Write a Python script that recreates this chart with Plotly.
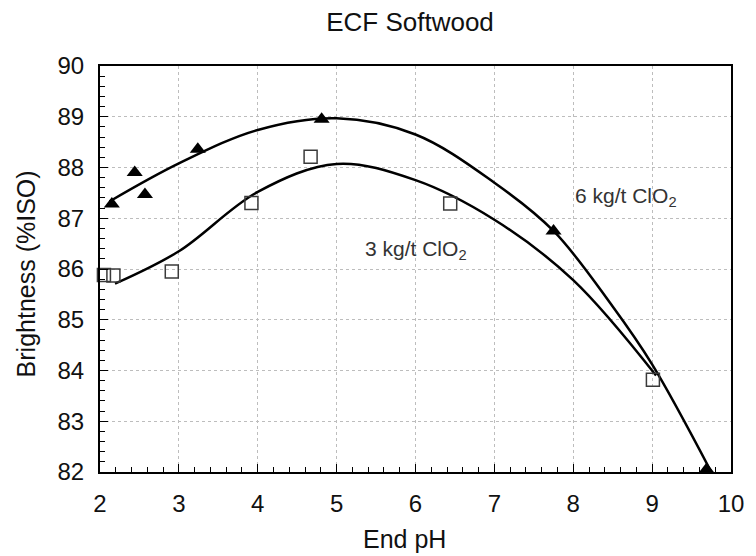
import plotly.graph_objects as go

# Measured points
ph_6kg = [2.15, 2.44, 2.57, 3.24, 4.81, 7.75, 9.69]
br_6kg = [87.28, 87.90, 87.47, 88.36, 88.95, 86.75, 82.05]
ph_3kg = [2.05, 2.17, 2.91, 3.92, 4.67, 6.44, 9.01]
br_3kg = [85.88, 85.87, 85.95, 87.30, 88.21, 87.29, 83.82]

# Fitted curves
fit6_x = [2.12, 3.0, 4.0, 5.0, 6.0, 7.0, 7.75, 8.5, 9.0, 9.75]
fit6_y = [87.33, 88.08, 88.74, 88.97, 88.65, 87.70, 86.75, 85.26, 84.12, 82.0]
fit3_x = [2.19, 3.0, 4.0, 5.0, 6.0, 7.0, 8.0, 9.05]
fit3_y = [85.71, 86.35, 87.52, 88.07, 87.75, 86.97, 85.78, 83.9]

x_ticks = [2, 3, 4, 5, 6, 7, 8, 9, 10]
y_ticks = [82, 83, 84, 85, 86, 87, 88, 89, 90]

font = "Liberation Sans, Arial, sans-serif"

fig = go.Figure()
fig.add_trace(go.Scatter(x=fit6_x, y=fit6_y, mode="lines",
                         line=dict(color="black", width=2.5, shape="spline", smoothing=1.0),
                         showlegend=False, hoverinfo="skip"))
fig.add_trace(go.Scatter(x=fit3_x, y=fit3_y, mode="lines",
                         line=dict(color="black", width=2.5, shape="spline", smoothing=1.0),
                         showlegend=False, hoverinfo="skip"))
fig.add_trace(go.Scatter(x=ph_6kg, y=br_6kg, mode="markers", name="6 kg/t ClO2",
                         marker=dict(symbol="triangle-up", size=14, color="black"),
                         showlegend=False, cliponaxis=False))
fig.add_trace(go.Scatter(x=ph_3kg, y=br_3kg, mode="markers", name="3 kg/t ClO2",
                         marker=dict(symbol="square-open", size=13, color="#3a3a3a",
                                     line=dict(width=1.5)),
                         showlegend=False, cliponaxis=False))

fig.add_annotation(x=8.67, y=87.42, text="6 kg/t ClO<sub>2</sub>", showarrow=False,
                   font=dict(family=font, size=21, color="#333333"))
fig.add_annotation(x=6.01, y=86.38, text="3 kg/t ClO<sub>2</sub>", showarrow=False,
                   font=dict(family=font, size=21, color="#333333"))

# Axis titles placed as paper annotations
fig.add_annotation(xref="paper", yref="paper", x=0.483, y=-0.164, text="End pH",
                   showarrow=False, xanchor="center", yanchor="middle",
                   font=dict(family=font, size=25, color="#111111"))
fig.add_annotation(xref="paper", yref="paper", x=-0.118, y=0.488, text="Brightness (%ISO)",
                   showarrow=False, xanchor="center", yanchor="middle", textangle=-90,
                   font=dict(family=font, size=25, color="#111111"))

axis_common = dict(showline=True, linecolor="black", linewidth=2, mirror=True,
                   showgrid=True, gridcolor="#bdbdbd", griddash="dot", gridwidth=1,
                   ticks="inside", ticklen=8, tickcolor="black", zeroline=False,
                   tickfont=dict(family=font, size=24, color="#111111"))

fig.update_xaxes(range=[2, 10], tickvals=x_ticks, ticktext=[str(v) for v in x_ticks],
                 ticklabelstandoff=9,
                 minor=dict(dtick=0.2, ticks="inside", ticklen=5, tickcolor="black", showgrid=False),
                 **axis_common)
fig.update_yaxes(range=[82, 90], tickvals=y_ticks, ticktext=[str(v) for v in y_ticks],
                 ticklabelstandoff=9,
                 minor=dict(dtick=0.2, ticks="inside", ticklen=5, tickcolor="black", showgrid=False),
                 **axis_common)

fig.update_layout(
    width=756, height=556,
    margin=dict(l=100, r=18, t=66, b=84),
    paper_bgcolor="white", plot_bgcolor="white",
    title=dict(text="ECF Softwood", x=410 / 756, xanchor="center",
               y=1 - 22 / 556, yanchor="middle",
               font=dict(family=font, size=26, color="#111111")),
)

fig.write_html("out.html")
